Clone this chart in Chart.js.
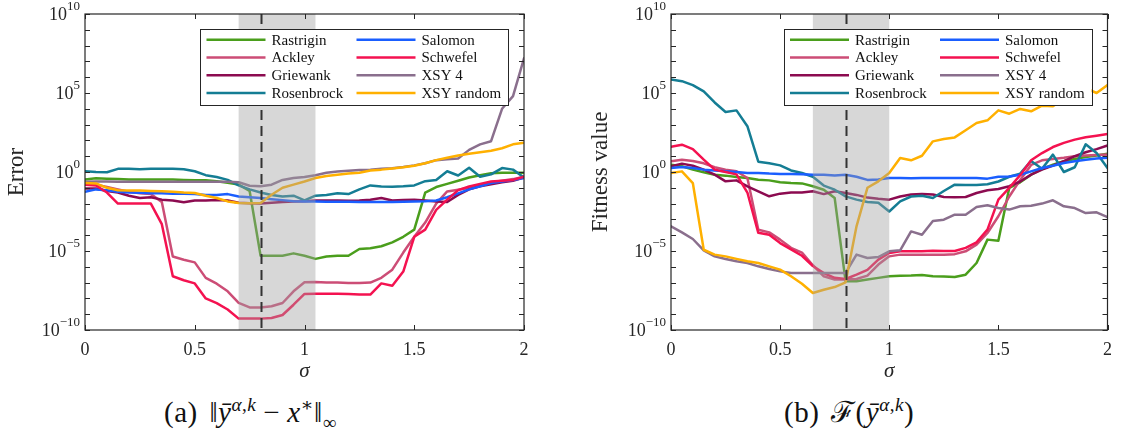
<!DOCTYPE html>
<html>
<head>
<meta charset="utf-8">
<script src="https://cdn.jsdelivr.net/npm/chart.js@4.4.1/dist/chart.umd.min.js"></script>
<style>
  body { margin: 0; background: #fff; width: 1121px; height: 436px; position: relative; overflow: hidden; }
  .panel { position: absolute; top: 0; }
  .cap { position: absolute; top: 396px; font: 29px "Liberation Serif", "DejaVu Serif", serif; color: #111; line-height: 32px; white-space: nowrap; letter-spacing: 0.5px; }
  .cap sup, .cap sub { font-size: 66%; line-height: 0; }
  .cap .op { padding: 0 7px; }
  .cap .tag { margin-right: 4px; }
</style>
</head>
<body>
<div class="panel" style="left:0"><canvas id="errChart" width="560" height="390"></canvas></div>
<div class="panel" style="left:560px"><canvas id="fitChart" width="561" height="390"></canvas></div>
<div class="cap" style="left:164px"><span class="tag">(a)</span> ‖<i>ȳ</i><sup><i>α</i>,<i>k</i></sup><span class="op">−</span><i>x</i><sup>∗</sup>‖<sub>∞</sub></div>
<div class="cap" style="left:784px"><span class="tag">(b)</span> ℱ(<i>ȳ</i><sup><i>α</i>,<i>k</i></sup>)</div>
<script>
// sigma grid shared by every curve
const sigma = [0, 0.05, 0.1, 0.15, 0.2, 0.25, 0.3, 0.35, 0.4, 0.45, 0.5, 0.55, 0.6, 0.65, 0.7, 0.75, 0.8,
  0.85, 0.9, 0.95, 1, 1.05, 1.1, 1.15, 1.2, 1.25, 1.3, 1.35, 1.4, 1.45, 1.5, 1.55, 1.6, 1.65, 1.7, 1.75,
  1.8, 1.85, 1.9, 1.95, 2];

const names = ['Rastrigin', 'Ackley', 'Griewank', 'Rosenbrock', 'Salomon', 'Schwefel', 'XSY 4', 'XSY random'];
const colors = ['#4a9e1c', '#cc4d76', '#8c0b50', '#147d94', '#1a5eff', '#f41250', '#8a6f8d', '#ffb000'];

// values below are log10 of the plotted quantity (y axis shows decades)
const yLabelExps = [-10, -5, 0, 5, 10];

// (a) error ||y - x*||_inf
const errRastrigin = [-0.47, -0.4, -0.42, -0.45, -0.47, -0.48, -0.48, -0.47, -0.48, -0.5, -0.52, -0.52, -0.58, -0.68, -0.8, -1.2, -5.3, -5.3, -5.3, -5.15, -5.3, -5.5, -5.35, -5.3, -5.3, -4.87, -4.83, -4.7, -4.45, -4.1, -3.65, -1.3, -0.95, -0.75, -0.55, -0.35, -0.2, -0.08, -0.05, -0.05, -0.05];
const errAckley = [-0.75, -0.8, -0.95, -1.1, -1.25, -1.35, -1.4, -1.9, -5.35, -5.55, -5.72, -6.7, -7.07, -7.55, -8.28, -8.57, -8.57, -8.5, -8.29, -7.55, -6.98, -6.96, -7.0, -7.0, -7.03, -7.02, -7.0, -6.7, -6.18, -5.1, -4.1, -3.2, -2.0, -1.23, -1.12, -1.0, -0.87, -0.65, -0.55, -0.45, -0.3];
const errGriewank = [-1.05, -1.05, -1.2, -1.3, -1.5, -1.65, -1.6, -1.75, -1.8, -1.92, -1.8, -1.8, -1.78, -1.8, -1.95, -1.98, -2.0, -1.95, -1.9, -1.86, -1.85, -1.8, -1.8, -1.8, -1.82, -1.8, -1.75, -1.65, -1.8, -1.78, -1.75, -1.8, -1.86, -1.9, -1.45, -1.1, -0.9, -0.78, -0.65, -0.55, -0.35];
const errRosenbrock = [0.05, 0.0, -0.02, 0.2, 0.2, 0.18, 0.2, 0.2, 0.2, 0.18, 0.05, -0.2, -0.32, -0.5, -0.85, -1.1, -1.3, -1.45, -1.55, -1.5, -1.8, -1.5, -1.45, -1.35, -1.4, -1.1, -0.85, -0.92, -0.93, -0.9, -0.85, -0.58, -0.5, 0.05, -0.22, 0.27, -0.3, -0.15, 0.25, 0.15, -0.35];
const errSalomon = [-1.25, -1.1, -1.15, -1.25, -1.3, -1.32, -1.35, -1.35, -1.37, -1.38, -1.4, -1.45, -1.45, -1.4, -1.55, -1.6, -1.65, -1.72, -1.78, -1.85, -1.86, -1.86, -1.88, -1.88, -1.88, -1.9, -1.9, -1.9, -1.9, -1.88, -1.86, -1.85, -1.8, -1.6, -1.35, -1.1, -0.9, -0.7, -0.6, -0.5, -0.38];
const errSchwefel = [-0.8, -0.85, -1.3, -2.0, -2.0, -2.0, -2.0, -3.3, -6.6, -6.85, -7.05, -8.0, -8.3, -8.7, -9.28, -9.28, -9.28, -9.24, -9.05, -8.4, -7.72, -7.7, -7.7, -7.7, -7.72, -7.75, -7.76, -7.05, -7.2, -6.3, -4.1, -3.65, -2.4, -1.75, -1.15, -0.92, -0.75, -0.6, -0.55, -0.5, -0.3];
const errXsy4 = [-0.62, -0.6, -0.6, -0.62, -0.62, -0.62, -0.62, -0.62, -0.62, -0.62, -0.62, -0.62, -0.62, -0.62, -0.65, -0.87, -0.9, -0.8, -0.5, -0.38, -0.32, -0.2, -0.05, 0.03, 0.08, 0.12, 0.15, 0.2, 0.24, 0.32, 0.42, 0.55, 0.75, 0.8, 0.85, 1.4, 1.75, 1.95, 4.0, 4.8, 7.2];
const errXsyRandom = [-0.7, -0.72, -1.0, -1.15, -1.17, -1.17, -1.2, -1.22, -1.25, -1.3, -1.33, -1.5, -1.65, -1.86, -1.96, -1.97, -1.96, -1.44, -1.0, -0.8, -0.6, -0.38, -0.25, -0.17, -0.1, -0.05, 0.1, 0.15, 0.22, 0.3, 0.4, 0.55, 0.75, 0.9, 1.05, 1.15, 1.25, 1.35, 1.5, 1.75, 1.85];

// (b) fitness F(y)
const fitRastrigin = [0.46, 0.36, 0.15, -0.02, -0.17, -0.23, -0.32, -0.38, -0.49, -0.53, -0.65, -0.7, -0.72, -0.9, -1.12, -1.65, -6.92, -6.92, -6.81, -6.7, -6.6, -6.56, -6.55, -6.52, -6.6, -6.62, -6.65, -6.5, -5.76, -4.28, -4.35, -1.0, -0.65, -0.17, 0.19, 0.46, 0.68, 0.82, 0.95, 1.05, 1.15];
const fitAckley = [0.68, 0.78, 0.7, 0.55, 0.3, 0.15, 0.05, -0.38, -3.65, -3.82, -4.28, -4.8, -5.1, -5.9, -6.6, -6.81, -6.81, -6.77, -6.56, -5.86, -5.34, -5.23, -5.23, -5.23, -5.23, -5.23, -5.2, -5.02, -4.6, -3.86, -2.8, -1.55, -0.5, 0.45, 0.74, 0.82, 0.9, 1.0, 1.05, 1.08, 1.1];
const fitGriewank = [0.36, 0.53, 0.4, 0.15, -0.17, -0.59, -0.53, -0.91, -1.22, -1.54, -1.37, -1.3, -1.3, -1.22, -1.4, -1.22, -1.33, -1.45, -1.62, -1.7, -1.75, -1.55, -1.43, -1.4, -1.43, -1.58, -1.6, -1.58, -1.33, -1.16, -1.08, -0.9, -0.6, -0.17, 0.15, 0.4, 0.68, 1.0, 1.25, 1.45, 1.68];
const fitRosenbrock = [5.85, 5.75, 5.5, 5.1, 4.4, 3.8, 3.9, 2.9, 0.65, 0.55, 0.42, 0.1, -0.06, -0.3, -0.86, -1.12, -1.54, -1.75, -1.9, -1.95, -2.5, -1.86, -1.55, -1.5, -1.65, -1.2, -0.8, -0.82, -0.82, -0.78, -0.6, -0.3, -0.1, 0.7, 0.2, 1.1, 0.0, 0.3, 1.75, 1.2, 0.25];
const fitSalomon = [0.25, 0.32, 0.25, 0.15, 0.1, 0.04, 0.0, -0.06, -0.06, -0.1, -0.12, -0.12, -0.15, -0.17, -0.17, -0.22, -0.17, -0.3, -0.5, -0.48, -0.38, -0.38, -0.4, -0.38, -0.38, -0.38, -0.38, -0.38, -0.38, -0.42, -0.3, -0.28, -0.17, 0.04, 0.25, 0.4, 0.57, 0.68, 0.78, 0.85, 0.9];
const fitSchwefel = [1.6, 1.73, 1.45, 0.78, 0.15, 0.0, -0.15, -1.3, -3.85, -3.97, -4.5, -4.9, -5.3, -5.95, -6.4, -6.7, -6.77, -6.5, -6.2, -5.55, -5.13, -5.02, -5.02, -5.02, -4.98, -5.0, -5.0, -4.8, -4.45, -3.65, -1.75, -1.0, -0.2, 0.74, 1.2, 1.58, 1.84, 2.05, 2.2, 2.3, 2.4];
const fitXsy4 = [-3.44, -3.82, -4.24, -4.96, -5.34, -5.51, -5.65, -5.76, -5.97, -6.14, -6.29, -6.39, -6.39, -6.39, -6.39, -6.39, -6.39, -5.23, -5.44, -5.38, -5.02, -4.96, -3.76, -3.97, -3.1, -3.02, -2.7, -2.7, -2.22, -2.11, -2.28, -2.38, -2.17, -2.13, -2.0, -1.79, -2.17, -2.28, -2.6, -2.55, -2.85];
const fitXsyRandom = [-0.06, 0.04, -0.7, -4.92, -5.23, -5.34, -5.5, -5.65, -5.76, -5.97, -6.18, -6.6, -7.07, -7.66, -7.45, -7.28, -6.98, -3.44, -1.0, -0.59, -0.06, 0.89, 0.74, 1.03, 1.94, 2.09, 2.19, 2.64, 3.1, 3.27, 3.9, 3.69, 3.99, 3.84, 4.2, 4.16, 4.6, 5.0, 5.3, 5.0, 5.5];

const SERIF = '"Liberation Serif", "DejaVu Serif", serif';
const INK = '#262626';

// frame, inward ticks, decade labels, sigma band and legend
const decorations = {
  id: 'decorations',
  afterDatasetsDraw(chart, args, opts) {
    const { ctx, chartArea: a, scales: { x, y } } = chart;
    ctx.save();

    // shaded sigma range, drawn over the curves
    const b0 = x.getPixelForValue(opts.band[0]);
    const b1 = x.getPixelForValue(opts.band[1]);
    ctx.fillStyle = 'rgba(160,160,160,0.42)';
    ctx.fillRect(b0, a.top, b1 - b0, a.bottom - a.top);

    // dashed marker at the chosen sigma
    const xm = Math.round(x.getPixelForValue(opts.marker)) + 0.5;
    ctx.strokeStyle = '#333';
    ctx.lineWidth = 2;
    ctx.setLineDash([10, 6]);
    ctx.beginPath();
    ctx.moveTo(xm, a.top);
    ctx.lineTo(xm, a.bottom);
    ctx.stroke();
    ctx.setLineDash([]);

    // box
    ctx.strokeStyle = INK;
    ctx.lineWidth = 1.2;
    ctx.strokeRect(a.left, a.top, a.right - a.left, a.bottom - a.top);

    // inward ticks on all four sides
    ctx.lineWidth = 1;
    ctx.beginPath();
    for (let e = -10; e <= 10; e++) {
      const py = Math.round(y.getPixelForValue(e)) + 0.5;
      ctx.moveTo(a.left, py); ctx.lineTo(a.left + 5, py);
      ctx.moveTo(a.right, py); ctx.lineTo(a.right - 5, py);
    }
    for (const t of x.ticks) {
      const px = Math.round(x.getPixelForValue(t.value)) + 0.5;
      ctx.moveTo(px, a.bottom); ctx.lineTo(px, a.bottom - 5);
      ctx.moveTo(px, a.top); ctx.lineTo(px, a.top + 5);
    }
    ctx.stroke();

    // decade labels 10^n
    ctx.fillStyle = INK;
    for (const e of yLabelExps) {
      const py = y.getPixelForValue(e);
      const ex = e < 0 ? '\u2212' + (-e) : String(e);
      ctx.font = '13px ' + SERIF;
      const ew = ctx.measureText(ex).width;
      ctx.textAlign = 'left';
      ctx.textBaseline = 'alphabetic';
      const xr = a.left - 5;
      ctx.fillText(ex, xr - ew, py - 4);
      ctx.font = '18px ' + SERIF;
      ctx.textAlign = 'right';
      ctx.textBaseline = 'middle';
      ctx.fillText('10', xr - ew, py + 1);
    }

    // legend, two columns of four
    const w = 308, h = 76;
    const lx = a.right - 16 - w, ly = a.top + 15;
    ctx.fillStyle = '#fff';
    ctx.fillRect(lx, ly, w, h);
    ctx.strokeStyle = INK;
    ctx.lineWidth = 1;
    ctx.strokeRect(Math.round(lx) + 0.5, Math.round(ly) + 0.5, w, h);
    ctx.font = '15px ' + SERIF;
    ctx.textAlign = 'left';
    ctx.textBaseline = 'middle';
    chart.data.datasets.forEach((ds, i) => {
      const col = Math.floor(i / 4), row = i % 4;
      const cx = lx + 6.5 + col * 150;
      const cy = ly + 10.7 + row * 17.8;
      ctx.strokeStyle = ds.borderColor;
      ctx.lineWidth = 2.5;
      ctx.beginPath();
      ctx.moveTo(cx, cy); ctx.lineTo(cx + 59, cy);
      ctx.stroke();
      ctx.fillStyle = '#111';
      ctx.fillText(ds.label, cx + 65, cy + 1);
    });

    ctx.restore();
  }
};

function makeChart(canvasId, series, yTitle, band, yWidth, padRight, titlePad) {
  const datasets = series.map((vals, i) => ({
    label: names[i],
    data: sigma.map((s, k) => ({ x: s, y: vals[k] })),
    borderColor: colors[i],
    borderWidth: 2.5,
    pointRadius: 0,
    tension: 0,
    borderJoinStyle: 'round',
    borderCapStyle: 'round',
    order: series.length - i
  }));

  return new Chart(document.getElementById(canvasId), {
    type: 'line',
    data: { datasets },
    options: {
      responsive: false,
      animation: false,
      devicePixelRatio: 1,
      layout: { padding: { top: 14, right: padRight, bottom: 0, left: 0 } },
      plugins: {
        legend: { display: false },
        tooltip: { enabled: false },
        decorations: { band, marker: 0.8 }
      },
      scales: {
        x: {
          type: 'linear',
          min: 0,
          max: 2,
          grid: { display: false, drawTicks: false },
          border: { display: false },
          ticks: { stepSize: 0.5, padding: 9, color: INK, font: { family: SERIF, size: 18 },
                   callback: v => String(v) },
          title: { display: true, text: 'σ', color: INK, padding: { top: 0, bottom: 6 },
                   font: { family: SERIF, size: 21, style: 'italic' } },
          afterFit(scale) { scale.height = 60; }
        },
        y: {
          type: 'linear',
          min: -10,
          max: 10,
          grid: { display: false, drawTicks: false },
          border: { display: false },
          ticks: { display: false, stepSize: 1 },
          title: { display: true, text: yTitle, color: INK, padding: { top: titlePad, bottom: 0 },
                   font: { family: SERIF, size: 23 } },
          afterFit(scale) { scale.width = yWidth; }
        }
      }
    },
    plugins: [decorations]
  });
}

makeChart('errChart',
  [errRastrigin, errAckley, errGriewank, errRosenbrock, errSalomon, errSchwefel, errXsy4, errXsyRandom],
  'Error', [0.7, 1.05], 85, 36, 3);

makeChart('fitChart',
  [fitRastrigin, fitAckley, fitGriewank, fitRosenbrock, fitSalomon, fitSchwefel, fitXsy4, fitXsyRandom],
  'Fitness value', [0.65, 1.0], 111, 11, 27);
</script>
</body>
</html>
